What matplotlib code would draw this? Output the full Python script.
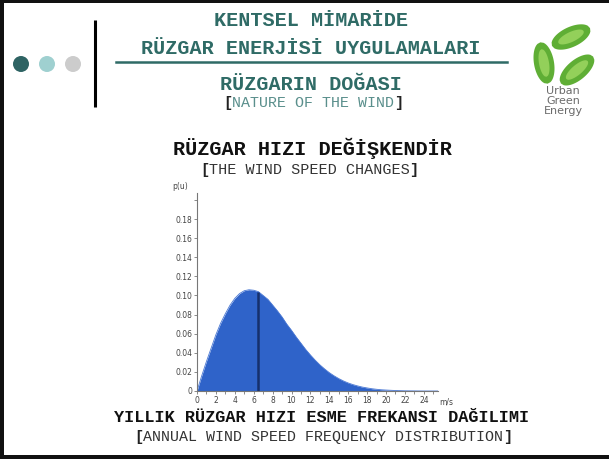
import matplotlib
matplotlib.use("Agg")
import numpy as np
import matplotlib.pyplot as plt
from matplotlib.patches import Circle, Rectangle, Polygon
from matplotlib.ticker import MultipleLocator, FixedLocator, FixedFormatter

# wind speed (m/s) and probability density p(u)
speed = [0, 0.5, 1, 1.5, 2, 2.5, 3, 3.5, 4, 4.5, 5, 5.5, 6, 6.5, 7, 7.5, 8, 8.5,
         9, 9.5, 10, 10.5, 11, 11.5, 12, 12.5, 13, 13.5, 14, 14.5, 15, 15.5,
         16, 16.5, 17, 17.5, 18, 18.5, 19, 19.5, 20, 21, 22, 23, 24, 25, 25.5]
density = [0, 0.016, 0.031, 0.045, 0.059, 0.071, 0.081, 0.090, 0.097, 0.102,
           0.105, 0.106, 0.1055, 0.104, 0.100, 0.096, 0.090, 0.084, 0.0775,
           0.070, 0.0635, 0.0565, 0.050, 0.0435, 0.0377, 0.0323, 0.0274,
           0.0231, 0.0192, 0.0159, 0.0130, 0.0105, 0.0084, 0.0067, 0.0053,
           0.0041, 0.0032, 0.0024, 0.0018, 0.0013, 0.0010, 0.0005, 0.0002,
           0.0001, 0, 0, 0]
mean_speed = 6.5

xticks = list(range(0, 25, 2))
yticks = [0, 0.02, 0.04, 0.06, 0.08, 0.10, 0.12, 0.14, 0.16, 0.18, 0.20]
ytick_labels = ["0", "0.02", "0.04", "0.06", "0.08", "0.10", "0.12", "0.14",
                "0.16", "0.18", ""]

title1 = "KENTSEL MİMARİDE"
title2 = "RÜZGAR ENERJİSİ UYGULAMALARI"
section = "RÜZGARIN DOĞASI"
section_en = "NATURE OF THE WIND"
heading = "RÜZGAR HIZI DEĞİŞKENDİR"
heading_en = "THE WIND SPEED CHANGES"
caption = "YILLIK RÜZGAR HIZI ESME FREKANSI DAĞILIMI"
caption_en = "ANNUAL WIND SPEED FREQUENCY DISTRIBUTION"
logo_words = ["Urban", "Green", "Energy"]

W, H = 609, 459
fig = plt.figure(figsize=(W / 100, H / 100), dpi=100)
fig.patch.set_facecolor("white")

# slide layer in pixel coordinates
bg = fig.add_axes([0, 0, 1, 1])
bg.set_xlim(0, W)
bg.set_ylim(H, 0)
bg.axis("off")

mono = "Liberation Mono"
teal = "#2f6b66"

# frame
bg.add_patch(Rectangle((0, 0), 4, H, color="#111111", lw=0))
bg.add_patch(Rectangle((0, 0), W, 3, color="#111111", lw=0))
bg.add_patch(Rectangle((0, 455), W, 4, color="#111111", lw=0))

# dots and divider
for cx, col in [(21, "#2e6363"), (47, "#9fd0d0"), (73, "#cccccc")]:
    bg.add_patch(Circle((cx, 64), 8, color=col, lw=0))
bg.plot([95, 95], [20, 107], color="black", lw=2.2, solid_capstyle="butt")


def bracketed(x, y, s, size, color):
    cw = 0.6 * size * 100 / 72
    n = len(s) + 2
    left = x - n * cw / 2
    bg.text(left + cw, y, s, family=mono, size=size, color=color,
            ha="left", va="center")
    bg.text(left, y, "[", family=mono, size=size, weight="bold",
            color="#222222", ha="left", va="center")
    bg.text(left + (n - 1) * cw, y, "]", family=mono, size=size,
            weight="bold", color="#222222", ha="left", va="center")


bg.text(311, 21, title1, family=mono, weight="bold", size=14.5, color=teal,
        ha="center", va="center")
bg.text(311, 48, title2, family=mono, weight="bold", size=14.5, color=teal,
        ha="center", va="center")
bg.plot([116, 507], [62, 62], color=teal, lw=1.8)
bg.text(311, 85, section, family=mono, weight="bold", size=14.5, color=teal,
        ha="center", va="center")
bracketed(313, 103, section_en, 10.8, "#5a8f8c")

bg.text(312, 148, heading, family=mono, weight="bold", size=14.6,
        color="#111111", ha="center", va="center")
bracketed(309, 170, heading_en, 10.9, "#333333")

bg.text(322, 417, caption, family=mono, weight="bold", size=12.2,
        color="#111111", ha="center", va="center")
bracketed(323, 437, caption_en, 10.8, "#333333")


# logo: three leaves in a ring
def leaf(cx, cy, length, width, ang, color):
    t = np.linspace(-1, 1, 40)
    u = np.concatenate([t, t[::-1]]) * length / 2
    half = np.sqrt(1 - t ** 2)
    v = np.concatenate([half, -half[::-1]]) * width / 2
    a = np.radians(ang)
    px = cx + u * np.cos(a) - v * np.sin(a)
    py = cy - (u * np.sin(a) + v * np.cos(a))
    bg.add_patch(Polygon(np.column_stack([px, py]), closed=True,
                         color=color, lw=0))


for (cx, cy, ang) in [(571, 37, 25), (544, 63, 100), (577, 70, 40)]:
    leaf(cx, cy, 42, 20, ang, "#5fae35")
    leaf(cx, cy, 28, 10, ang, "#93d05a")
for i, w in enumerate(logo_words):
    bg.text(563, 91 + 10 * i, w, family="DejaVu Sans", size=8,
            color="#6b6b6b", ha="center", va="center")

# chart
ax = fig.add_axes([197 / W, (H - 391) / H, 241 / W, 198 / H])
ax.fill_between(speed, density, 0, color="#2f63c9", lw=0)
ax.plot(speed, density, color="#4a78d4", lw=0.6)
ax.vlines(mean_speed, 0, density[speed.index(mean_speed)], color="#16306c",
          lw=1.8)
ax.set_xlim(0, 25.5)
ax.set_ylim(0, 0.2073)
ax.set_facecolor("none")
for s in ["top", "right"]:
    ax.spines[s].set_visible(False)
for s in ["left", "bottom"]:
    ax.spines[s].set_color("#777777")
    ax.spines[s].set_linewidth(0.8)
ax.xaxis.set_major_locator(FixedLocator(xticks))
ax.xaxis.set_minor_locator(MultipleLocator(1))
ax.yaxis.set_major_locator(FixedLocator(yticks))
ax.yaxis.set_major_formatter(FixedFormatter(ytick_labels))
ax.tick_params(axis="both", which="both", colors="#777777", labelcolor="#444444",
               labelsize=5.5, length=2, width=0.6, pad=1.5)
ax.text(25.6, -0.0115, "m/s", size=5.5, color="#444444", ha="left",
        va="center", clip_on=False)
ax.text(-0.9, 0.2095, "p(u)", size=5.5, color="#444444", ha="right",
        va="bottom", clip_on=False)

fig.savefig("out.png", dpi=100)
